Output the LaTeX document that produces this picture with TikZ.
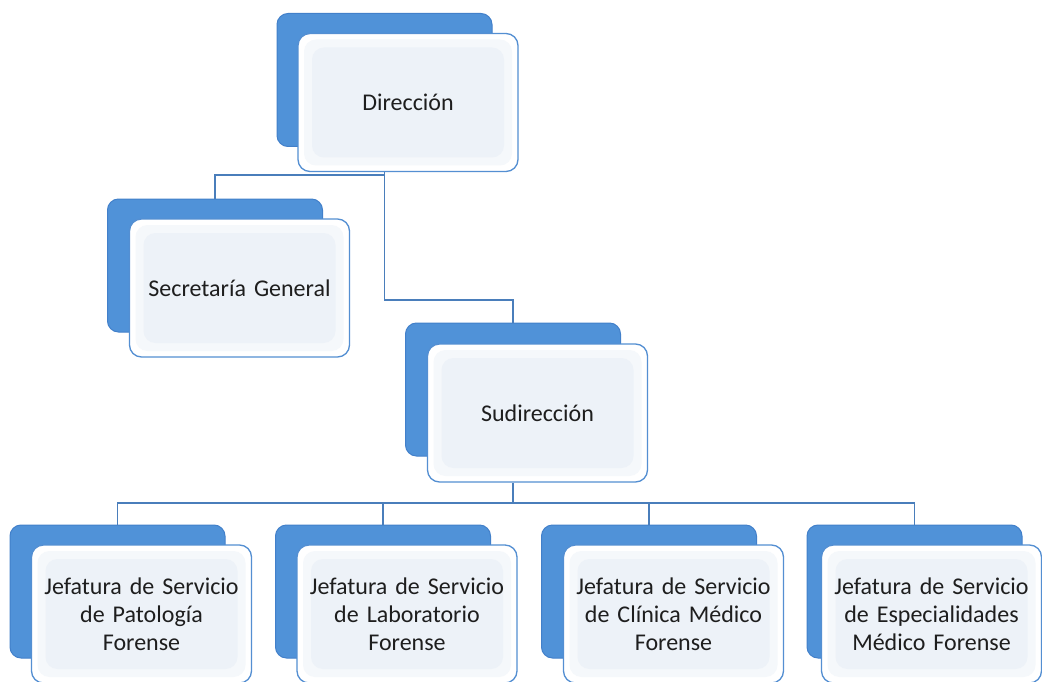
\documentclass[tikz,border=0pt]{standalone}
\usepackage{fontspec}
\setmainfont{Carlito}
\definecolor{backblue}{RGB}{80,146,216}
\definecolor{backedge}{RGB}{66,128,202}
\definecolor{frontedge}{RGB}{84,143,210}
\definecolor{frontinA}{RGB}{245,248,251}
\definecolor{frontinB}{RGB}{237,242,248}
\definecolor{linkcol}{RGB}{74,126,187}
\definecolor{txt}{RGB}{30,30,30}
\tikzset{
  backbox/.style={draw=backedge, line width=1pt, fill=backblue, rounded corners=11pt,
    minimum width=215pt, minimum height=133pt, inner sep=0pt},
  frontbox/.style={draw=frontedge, line width=1.3pt, fill=white, rounded corners=12pt,
    minimum width=220pt, minimum height=138pt, inner sep=0pt,
    text width=210pt, align=center, text=txt,
    font=\fontsize{24}{28}\selectfont,
    path picture={\fill[frontinA] ([shift={(6pt,6pt)}]path picture bounding box.south west)
      rectangle ([shift={(-6pt,-6pt)}]path picture bounding box.north east);
      \fill[frontinB] ([shift={(14pt,14pt)}]path picture bounding box.south west)
      rectangle ([shift={(-14pt,-14pt)}]path picture bounding box.north east);}},
  conn/.style={draw=linkcol, line width=1.6pt}
}
\begin{document}
\begin{tikzpicture}[x=1pt,y=-1pt]
\useasboundingbox[fill=white] (0,0) rectangle (1042,682);
% boxes
\node[backbox] (dirb) at (384.5,80) {};
\node[frontbox] (dir) at (408,102.5) {Dirección};
\node[backbox] (secb) at (215,265.5) {};
\node[frontbox] (sec) at (239.5,288) {Secretaría General};
\node[backbox] (subb) at (513,389.5) {};
\node[frontbox] (sub) at (537.5,413) {Sudirección};
\node[backbox] (j1b) at (117.5,591.5) {};
\node[frontbox] (j1) at (141.5,614) {Jefatura de Servicio\\de Patología\\Forense};
\node[backbox] (j2b) at (383,591.5) {};
\node[frontbox] (j2) at (407,614) {Jefatura de Servicio\\de Laboratorio\\Forense};
\node[backbox] (j3b) at (649,591.5) {};
\node[frontbox] (j3) at (673.5,614) {Jefatura de Servicio\\de Clínica Médico\\Forense};
\node[backbox] (j4b) at (914.5,591.5) {};
\node[frontbox] (j4) at (931.5,614) {Jefatura de Servicio\\de Especialidades\\Médico Forense};
% junctions
\coordinate (k0) at (384.5,175);
\coordinate (k1) at (513,300);
\coordinate (k2) at (513,503);
% connectors
\draw[conn] (dirb.center |- dir.south) |- (k1) -- (subb.north);
\draw[conn] (k0) -| (secb.north);
\draw[conn] (subb.center |- sub.south) -- (k2);
\draw[conn] (k2) -| (j1b.north);
\draw[conn] (k2) -| (j2b.north);
\draw[conn] (k2) -| (j3b.north);
\draw[conn] (k2) -| (j4b.north);
\end{tikzpicture}
\end{document}
